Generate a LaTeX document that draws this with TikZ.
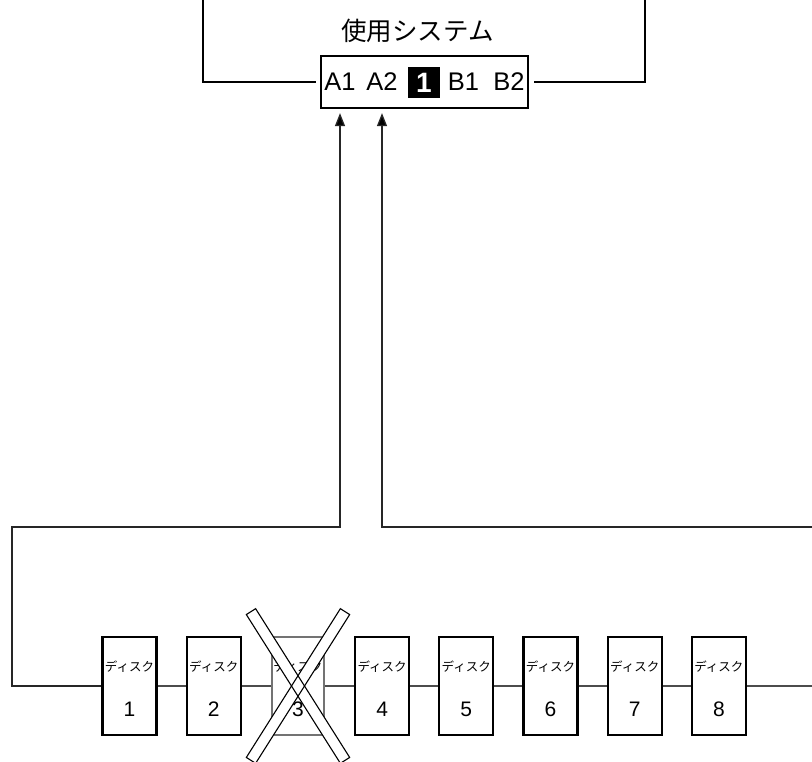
\documentclass[tikz,border=0pt]{standalone}
\usepackage{fontspec}
\setmainfont{Liberation Sans}
\newfontfamily\jp{Noto Sans CJK JP}
\usetikzlibrary{arrows.meta}
\begin{document}
\begin{tikzpicture}[x=1pt,y=-1pt,
  diskbox/.style={draw, line width=2.2pt, minimum width=54pt, minimum height=98pt, inner sep=0pt},
  deadbox/.style={draw=black!55, line width=1.4pt, minimum width=52pt, minimum height=98pt, inner sep=0pt},
  conn/.style={draw=black!70, line width=1.3pt},
  arr/.style={draw=black!85, line width=1.3pt, -{Triangle[length=13pt,width=10pt,fill=black]}},
  frameline/.style={line width=1.8pt},
  strip/.style={minimum width=176pt, minimum height=11pt, inner sep=0pt},
  lbl/.style={font=\fontsize{25.5}{26}\selectfont, inner sep=0pt},
  dtext/.style={font=\jp\fontsize{12.5}{13}\selectfont, inner sep=0pt},
  dnum/.style={font=\fontsize{21}{21}\selectfont, inner sep=0pt},
]
\useasboundingbox (0,0) rectangle (812,762);

% system box
\node[draw, line width=2.2pt, minimum width=207pt, minimum height=52pt, inner sep=0pt] (sys) at (424.5,82) {};
\node[font=\jp\fontsize{25.5}{26}\selectfont, inner sep=0pt] (title) at (417.5,31) {使用システム};
\node[lbl] (a1) at (340,82) {A1};
\node[lbl] (a2) at (382,82) {A2};
\node[fill=black, minimum width=32pt, minimum height=31pt, inner sep=0pt, text=white, font=\bfseries\fontsize{28}{28}\selectfont] (one) at (424,82.5) {1};
\node[lbl] (b1) at (463.5,82) {B1};
\node[lbl] (b2) at (509,82) {B2};

% system frame lines
\coordinate (tl) at (203,0);
\coordinate (tr) at (645,0);
\draw[frameline, shorten >=4pt] (tl) |- (sys.west);
\draw[frameline, shorten <=5pt] (sys.east) -| (tr);

% disks
\foreach \i/\s in {1/diskbox,2/diskbox,3/deadbox,4/diskbox,5/diskbox,6/diskbox,7/diskbox,8/diskbox}{
  \node[\s] (d\i) at ({129.5+84.2*(\i-1)},686) {};
}
\foreach \i in {1,...,8}{
  \node[dtext] (t\i) at ([yshift=19pt]d\i.center) {ディスク};
  \node[dnum] (n\i) at ([yshift=-23pt]d\i.center) {\i};
}

% chain connectors
\coordinate (lb) at (12,686);
\coordinate (lt) at (12,527);
\coordinate (rt) at (812,527);
\coordinate (rb) at (812,686);
\draw[arr] (d1.west) -- (lb) -- (lt) -- (lt -| a1) -- ([yshift=-4pt]a1 |- sys.south);
\draw[arr] (rt) -- (rt -| a2) -- ([yshift=-4pt]a2 |- sys.south);
\draw[conn] (d1.east) -- (d2.west);
\draw[conn] (d2.east) -- (d3.west);
\draw[conn] (d3.east) -- (d4.west);
\draw[conn] (d4.east) -- (d5.west);
\draw[conn] (d5.east) -- (d6.west);
\draw[conn] (d6.east) -- (d7.west);
\draw[conn] (d7.east) -- (d8.west);
\draw[conn] (d8.east) -- (rb);

% cross over disk 3
\node[strip, fill=white, rotate=-57.7] (xa) at (298,686) {};
\node[strip, fill=white, rotate=57.7] (xb) at (298,686) {};
\node[strip, draw, line width=1.1pt, rotate=-57.7] (xa2) at (298,686) {};
\node[strip, draw, line width=1.1pt, rotate=57.7] (xb2) at (298,686) {};
\end{tikzpicture}
\end{document}
